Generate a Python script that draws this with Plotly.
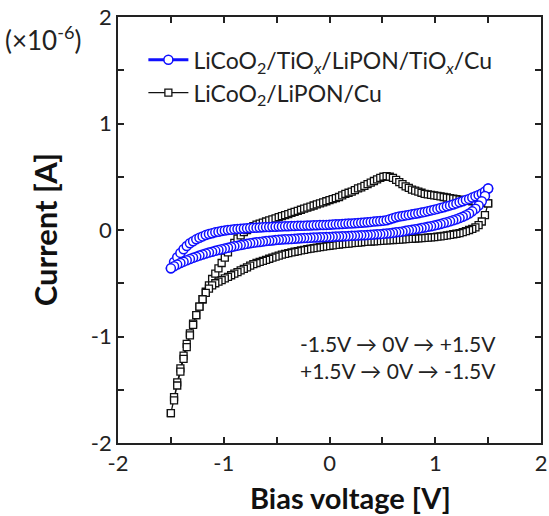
import plotly.graph_objects as go

# Bias sweep grid (V), -1.5 V -> +1.5 V in 0.03 V steps
V_FWD = [
    -1.50, -1.47, -1.44, -1.41, -1.38, -1.35, -1.32, -1.29, -1.26, -1.23,
    -1.20, -1.17, -1.14, -1.11, -1.08, -1.05, -1.02, -0.99, -0.96, -0.93,
    -0.90, -0.87, -0.84, -0.81, -0.78, -0.75, -0.72, -0.69, -0.66, -0.63,
    -0.60, -0.57, -0.54, -0.51, -0.48, -0.45, -0.42, -0.39, -0.36, -0.33,
    -0.30, -0.27, -0.24, -0.21, -0.18, -0.15, -0.12, -0.09, -0.06, -0.03,
    0.00, 0.03, 0.06, 0.09, 0.12, 0.15, 0.18, 0.21, 0.24, 0.27,
    0.30, 0.33, 0.36, 0.39, 0.42, 0.45, 0.48, 0.51, 0.54, 0.57,
    0.60, 0.63, 0.66, 0.69, 0.72, 0.75, 0.78, 0.81, 0.84, 0.87,
    0.90, 0.93, 0.96, 0.99, 1.02, 1.05, 1.08, 1.11, 1.14, 1.17,
    1.20, 1.23, 1.26, 1.29, 1.32, 1.35, 1.38, 1.41, 1.44, 1.47,
    1.50,
]
# return sweep +1.5 V -> -1.5 V
V_REV = V_FWD[::-1]

# LiCoO2/LiPON/Cu current (x1e-6 A), forward sweep
I_BARE_FWD = [
    -1.72, -1.57, -1.43, -1.30, -1.18, -1.07, -0.97, -0.88, -0.80, -0.72,
    -0.65, -0.58, -0.52, -0.46, -0.41, -0.36, -0.31, -0.26, -0.21, -0.16,
    -0.12, -0.08, -0.05, -0.02, 0.00, 0.02, 0.035, 0.05, 0.06, 0.07,
    0.08, 0.09, 0.10, 0.11, 0.12, 0.13, 0.14, 0.15, 0.16, 0.17,
    0.18, 0.19, 0.20, 0.21, 0.22, 0.23, 0.24, 0.25, 0.26, 0.27,
    0.28, 0.29, 0.30, 0.31, 0.325, 0.34, 0.35, 0.36, 0.375, 0.39,
    0.40, 0.415, 0.43, 0.445, 0.46, 0.475, 0.49, 0.50, 0.505, 0.50,
    0.49, 0.47, 0.45, 0.43, 0.41, 0.395, 0.38, 0.37, 0.36, 0.35,
    0.34, 0.335, 0.33, 0.325, 0.32, 0.315, 0.31, 0.305, 0.30, 0.295,
    0.29, 0.285, 0.28, 0.278, 0.275, 0.27, 0.27, 0.265, 0.26, 0.255,
    0.25,
]
# LiCoO2/LiPON/Cu current (x1e-6 A), return sweep
I_BARE_REV = [
    0.25, 0.14, 0.08, 0.045, 0.025, 0.01, 0.0, -0.01, -0.02, -0.03,
    -0.035, -0.04, -0.045, -0.05, -0.055, -0.06, -0.063, -0.066, -0.07, -0.072,
    -0.074, -0.076, -0.078, -0.08, -0.082, -0.084, -0.086, -0.088, -0.09, -0.092,
    -0.094, -0.096, -0.098, -0.10, -0.102, -0.104, -0.106, -0.108, -0.11, -0.112,
    -0.115, -0.118, -0.121, -0.124, -0.127, -0.13, -0.133, -0.136, -0.14, -0.144,
    -0.148, -0.152, -0.156, -0.16, -0.165, -0.17, -0.175, -0.18, -0.186, -0.192,
    -0.198, -0.204, -0.21, -0.217, -0.224, -0.232, -0.24, -0.25, -0.26, -0.27,
    -0.28, -0.29, -0.30, -0.31, -0.32, -0.335, -0.35, -0.365, -0.38, -0.395,
    -0.41, -0.425, -0.44, -0.455, -0.47, -0.485, -0.50, -0.52, -0.55, -0.59,
    -0.65, -0.72, -0.80, -0.89, -0.99, -1.10, -1.21, -1.33, -1.46, -1.60,
    -1.72,
]

# LiCoO2/TiOx/LiPON/TiOx/Cu current (x1e-6 A), forward sweep
I_TIOX_FWD = [
    -0.36, -0.30, -0.255, -0.215, -0.18, -0.15, -0.125, -0.105, -0.088, -0.073,
    -0.06, -0.048, -0.038, -0.03, -0.022, -0.016, -0.01, -0.005, 0.0, 0.003,
    0.006, 0.009, 0.012, 0.014, 0.016, 0.018, 0.02, 0.022, 0.024, 0.025,
    0.027, 0.028, 0.03, 0.031, 0.032, 0.034, 0.035, 0.036, 0.037, 0.038,
    0.039, 0.04, 0.041, 0.042, 0.043, 0.044, 0.045, 0.046, 0.047, 0.048,
    0.05, 0.051, 0.053, 0.055, 0.056, 0.058, 0.06, 0.062, 0.064, 0.066,
    0.068, 0.07, 0.073, 0.076, 0.079, 0.082, 0.085, 0.088, 0.092, 0.10,
    0.11, 0.12, 0.127, 0.132, 0.137, 0.142, 0.147, 0.152, 0.158, 0.164,
    0.17, 0.177, 0.184, 0.191, 0.198, 0.206, 0.214, 0.222, 0.231, 0.24,
    0.25, 0.26, 0.27, 0.281, 0.292, 0.304, 0.316, 0.329, 0.343, 0.362,
    0.39,
]
# LiCoO2/TiOx/LiPON/TiOx/Cu current (x1e-6 A), return sweep
I_TIOX_REV = [
    0.39, 0.32, 0.27, 0.23, 0.20, 0.175, 0.155, 0.138, 0.124, 0.112,
    0.101, 0.091, 0.082, 0.073, 0.065, 0.057, 0.05, 0.043, 0.036, 0.03,
    0.024, 0.018, 0.012, 0.007, 0.002, -0.003, -0.008, -0.013, -0.018, -0.022,
    -0.026, -0.03, -0.033, -0.036, -0.039, -0.041, -0.043, -0.045, -0.047, -0.049,
    -0.05, -0.052, -0.053, -0.055, -0.056, -0.058, -0.059, -0.06, -0.062, -0.063,
    -0.065, -0.066, -0.067, -0.069, -0.07, -0.071, -0.073, -0.074, -0.076, -0.078,
    -0.08, -0.082, -0.084, -0.086, -0.088, -0.09, -0.092, -0.095, -0.098, -0.101,
    -0.104, -0.108, -0.112, -0.116, -0.12, -0.125, -0.13, -0.135, -0.141, -0.147,
    -0.153, -0.16, -0.167, -0.174, -0.181, -0.188, -0.196, -0.204, -0.212, -0.221,
    -0.23, -0.24, -0.25, -0.261, -0.272, -0.284, -0.297, -0.31, -0.325, -0.341,
    -0.36,
]

NAME_TIOX = "LiCoO<sub>2</sub>/TiO<sub><i>x</i></sub>/LiPON/TiO<sub><i>x</i></sub>/Cu"
NAME_BARE = "LiCoO<sub>2</sub>/LiPON/Cu"

TICK_VALS = [-2, -1, 0, 1, 2]
TICK_TEXT = ["-2", "-1", "0", "1", "2"]
MINOR_VALS = [-1.5, -0.5, 0.5, 1.5]

FONT = "Lato, 'Open Sans', sans-serif"

fig = go.Figure()

fig.add_trace(go.Scatter(
    x=V_FWD + V_REV,
    y=I_BARE_FWD + I_BARE_REV,
    mode="lines+markers",
    name=NAME_BARE,
    line=dict(color="#111111", width=1.2),
    marker=dict(symbol="square", size=7, color="white",
                line=dict(color="#111111", width=1.3)),
))

fig.add_trace(go.Scatter(
    x=V_FWD + V_REV,
    y=I_TIOX_FWD + I_TIOX_REV,
    mode="lines+markers",
    name=NAME_TIOX,
    line=dict(color="#1010ff", width=3),
    marker=dict(symbol="circle", size=9, color="white",
                line=dict(color="#1010ff", width=1.5)),
))

axis_common = dict(
    range=[-2, 2],
    tickmode="array",
    tickvals=TICK_VALS,
    ticktext=TICK_TEXT,
    ticks="inside",
    ticklen=6,
    tickwidth=1.5,
    tickcolor="#222222",
    minor=dict(tickmode="array", tickvals=MINOR_VALS, ticks="inside",
               ticklen=6, tickwidth=1.5, tickcolor="#222222", showgrid=False),
    showline=True,
    linecolor="#222222",
    linewidth=1.8,
    mirror="ticks",
    showgrid=False,
    zeroline=False,
    automargin=False,
    tickfont=dict(size=22, color="#222222", family=FONT),
)

fig.update_xaxes(**axis_common)
fig.update_yaxes(**axis_common)

# axis titles
fig.add_annotation(
    text="<b>Bias voltage [V]</b>", xref="paper", yref="paper",
    x=0.55, y=-0.128, xanchor="center", yanchor="middle", showarrow=False,
    font=dict(size=29, color="#111111", family=FONT),
)
fig.add_annotation(
    text="<b>Current [A]</b>", xref="paper", yref="paper",
    x=-0.172, y=0.5, xanchor="center", yanchor="middle", showarrow=False,
    textangle=-90,
    font=dict(size=31, color="#111111", family=FONT),
)

fig.add_annotation(
    text="(×10<sup>-6</sup>)", xref="paper", yref="paper",
    x=-0.272, y=0.95, xanchor="left", yanchor="middle", showarrow=False,
    font=dict(size=26, color="#222222", family=FONT),
)
fig.add_annotation(
    text="-1.5V → 0V → +1.5V<br>+1.5V → 0V → -1.5V",
    xref="paper", yref="paper", x=0.425, y=0.203,
    xanchor="left", yanchor="middle", align="left", showarrow=False,
    font=dict(size=21, color="#222222", family=FONT),
)

fig.update_layout(
    width=549, height=516,
    margin=dict(l=118, r=8, t=17, b=73),
    paper_bgcolor="white", plot_bgcolor="white",
    font=dict(family=FONT, color="#222222"),
    showlegend=True,
    legend=dict(
        x=0.06, y=0.95, xanchor="left", yanchor="top",
        traceorder="reversed",
        bgcolor="rgba(0,0,0,0)",
        font=dict(size=23, color="#222222", family=FONT),
        itemwidth=40,
    ),
)

fig.write_html("out.html")
